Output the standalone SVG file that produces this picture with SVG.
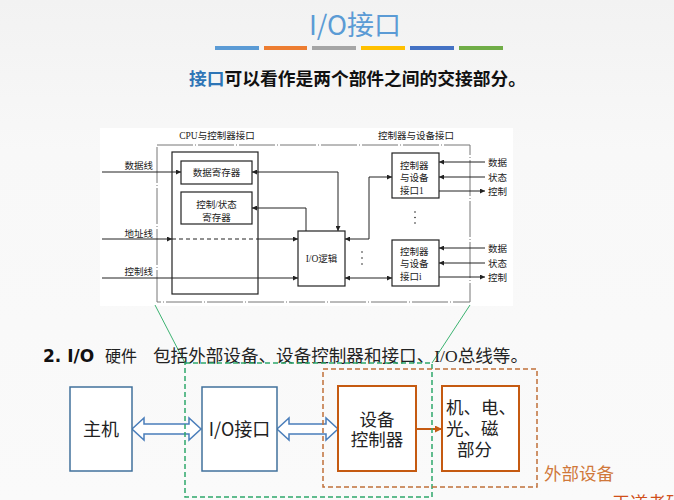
<svg xmlns="http://www.w3.org/2000/svg" width="674" height="500" viewBox="0 0 674 500">
<defs>
<marker id="ah" viewBox="0 0 10 10" refX="10" refY="5" markerWidth="7" markerHeight="5" orient="auto-start-reverse" markerUnits="userSpaceOnUse"><path d="M0,0 L10,5 L0,10 Z" fill="#222"/></marker>
<marker id="ao" viewBox="0 0 10 10" refX="10" refY="5" markerWidth="9" markerHeight="7" orient="auto" markerUnits="userSpaceOnUse"><path d="M0,0 L10,5 L0,10 Z" fill="#c55a11"/></marker>
<linearGradient id="bg" x1="0" y1="0" x2="0" y2="1"><stop offset="0" stop-color="#f2f2f2"/><stop offset="0.3" stop-color="#f8f8f8"/><stop offset="1" stop-color="#fafafa"/></linearGradient>
</defs>
<style>
.t{font-family:"Liberation Serif","Noto Sans CJK SC",serif;fill:#222}
.s{font-size:9.5px}
.ln{stroke:#222;stroke-width:1;fill:none}
.bx{stroke:#222;stroke-width:1.2;fill:#fff}
.frame{stroke:#777;stroke-width:1;fill:none;stroke-dasharray:36 2 1 2}
.blue{stroke:#41719c;stroke-width:1.5;fill:#fff}
.orng{stroke:#c55a11;stroke-width:2;fill:#fff}
.big{font-family:"Noto Sans CJK SC",sans-serif;font-size:18px;fill:#222}
</style>
<rect width="674" height="500" fill="url(#bg)"/>

<g id="header">
<text x="355" y="35" text-anchor="middle" font-family="Noto Sans CJK SC, sans-serif" font-size="27" fill="#5b9bd5">I/O接口</text>
<g stroke-width="4">
<line x1="215" y1="48" x2="259" y2="48" stroke="#5b9bd5"/>
<line x1="264" y1="48" x2="307" y2="48" stroke="#ed7d31"/>
<line x1="312" y1="48" x2="356" y2="48" stroke="#a5a5a5"/>
<line x1="361" y1="48" x2="405" y2="48" stroke="#ffc000"/>
<line x1="410" y1="48" x2="454" y2="48" stroke="#4472c4"/>
<line x1="459" y1="48" x2="503" y2="48" stroke="#70ad47"/>
</g>
<text x="189" y="85" font-family="Liberation Serif, Noto Sans CJK SC, serif" font-size="17.5" font-weight="bold" fill="#111" textLength="337" lengthAdjust="spacingAndGlyphs"><tspan fill="#2e75b6">接口</tspan>可以看作是两个部件之间的交接部分。</text>
</g>

<g id="panel">
<rect x="100" y="128" width="413" height="178" fill="#fff"/>
<rect class="frame" x="157" y="145" width="313" height="157"/>
<text class="t s" x="217" y="139" text-anchor="middle">CPU与控制器接口</text>
<text class="t s" x="416" y="139" text-anchor="middle">控制器与设备接口</text>
<text class="t s" x="153" y="169" text-anchor="end">数据线</text>
<text class="t s" x="153" y="237" text-anchor="end">地址线</text>
<text class="t s" x="153" y="275" text-anchor="end">控制线</text>
</g>

<g id="cpu-box"><rect x="172" y="152" width="86" height="142" fill="none" stroke="#222" stroke-width="1.2"/></g>
<g id="data-reg"><rect class="bx" x="181" y="161" width="71" height="23"/><text class="t s" x="216.5" y="176" text-anchor="middle">数据寄存器</text></g>
<g id="ctrl-reg"><rect class="bx" x="181" y="192" width="71" height="32"/><text class="t s" x="216.5" y="207.5" text-anchor="middle">控制/状态</text><text class="t s" x="216.5" y="220.5" text-anchor="middle">寄存器</text></g>
<g id="io-logic"><rect class="bx" x="298" y="231" width="47" height="55"/><text class="t s" x="321.5" y="262" text-anchor="middle">I/O逻辑</text></g>
<g id="dev-if-1"><rect class="bx" x="392" y="153" width="47" height="45"/><text class="t s" x="400" y="169">控制器</text><text class="t s" x="400" y="181">与设备</text><text class="t s" x="400" y="194">接口1</text></g>
<g id="dev-if-i"><rect class="bx" x="392" y="240" width="47" height="46"/><text class="t s" x="400" y="254.5">控制器</text><text class="t s" x="400" y="266.5">与设备</text><text class="t s" x="400" y="280">接口i</text></g>
<g id="signal-labels">
<text class="t s" x="488" y="165.5">数据</text><text class="t s" x="488" y="180.5">状态</text><text class="t s" x="488" y="194.5">控制</text>
<text class="t s" x="488" y="251.5">数据</text><text class="t s" x="488" y="266.5">状态</text><text class="t s" x="488" y="280.5">控制</text>
</g>
<g id="dots" fill="#222">
<circle cx="362" cy="252" r="0.8"/><circle cx="362" cy="258" r="0.8"/><circle cx="362" cy="264" r="0.8"/>
<circle cx="415" cy="212" r="0.8"/><circle cx="415" cy="217.5" r="0.8"/><circle cx="415" cy="223" r="0.8"/>
</g>

<g id="connectors">
<line class="ln" x1="102" y1="172" x2="181" y2="172" marker-end="url(#ah)"/>
<line class="ln" x1="102" y1="239" x2="172" y2="239" marker-end="url(#ah)"/>
<line class="ln" x1="172" y1="239" x2="258" y2="239" stroke-dasharray="4 3"/>
<line class="ln" x1="258" y1="239" x2="298" y2="239" marker-end="url(#ah)"/>
<line class="ln" x1="102" y1="278" x2="298" y2="278" marker-end="url(#ah)"/>
<path class="ln" d="M252,172 H338 V231" marker-start="url(#ah)" marker-end="url(#ah)"/>
<path class="ln" d="M306,231 V208 H252" marker-end="url(#ah)"/>
<path class="ln" d="M345,239 H369 V177 H392" marker-start="url(#ah)" marker-end="url(#ah)"/>
<line class="ln" x1="345" y1="278" x2="392" y2="278" marker-start="url(#ah)" marker-end="url(#ah)"/>
<line class="ln" x1="485" y1="162" x2="439" y2="162" marker-end="url(#ah)"/>
<line class="ln" x1="485" y1="177" x2="439" y2="177" marker-end="url(#ah)"/>
<line class="ln" x1="439" y1="191" x2="485" y2="191" marker-end="url(#ah)"/>
<line class="ln" x1="485" y1="248" x2="439" y2="248" marker-end="url(#ah)"/>
<line class="ln" x1="485" y1="263" x2="439" y2="263" marker-end="url(#ah)"/>
<line class="ln" x1="439" y1="277" x2="485" y2="277" marker-end="url(#ah)"/>
<line x1="155" y1="305" x2="185" y2="363" stroke="#3cb371" stroke-width="1"/>
<line x1="470" y1="305" x2="432" y2="363" stroke="#3cb371" stroke-width="1"/>
<path d="M132,429 L144,418 L144,424 L189,424 L189,418 L201,429 L189,440 L189,434 L144,434 L144,440 Z" fill="#fff" stroke="#4a7ebb" stroke-width="1.5"/>
<path d="M277,429 L289,418 L289,424 L326,424 L326,418 L338,429 L326,440 L326,434 L289,434 L289,440 Z" fill="#fff" stroke="#4a7ebb" stroke-width="1.5"/>
<line x1="416" y1="429" x2="442" y2="429" stroke="#c55a11" stroke-width="2" marker-end="url(#ao)"/>
</g>

<g id="hw-title">
<text x="43" y="362" font-family="DejaVu Sans, sans-serif" font-size="17" font-weight="bold" fill="#111">2. I/O</text>
<text x="105" y="362" font-family="Liberation Serif, Noto Sans CJK SC, serif" font-size="16" fill="#222">硬件</text>
<text x="153" y="362" font-family="Liberation Serif, Noto Sans CJK SC, serif" font-size="17.5" fill="#222" textLength="375" lengthAdjust="spacingAndGlyphs">包括外部设备、设备控制器和接口、I/O总线等。</text>
</g>

<g id="io-group"><rect x="185" y="363" width="247" height="134" fill="none" stroke="#2ea86b" stroke-width="1.5" stroke-dasharray="5 3"/></g>
<g id="external"><rect x="323" y="369" width="214" height="118" fill="none" stroke="#c0703a" stroke-width="1.5" stroke-dasharray="5 3"/><text x="544" y="480" font-family="Noto Sans CJK SC, sans-serif" font-size="17.5" fill="#d0783a">外部设备</text></g>

<g id="host"><rect class="blue" x="70" y="387" width="62" height="84"/><text class="big" x="101" y="436" text-anchor="middle">主机</text></g>
<g id="io-interface"><rect class="blue" x="202" y="387" width="75" height="84"/><text class="big" x="239.5" y="436" text-anchor="middle">I/O接口</text></g>
<g id="dev-controller"><rect class="orng" x="338" y="386" width="78" height="85"/><text class="t" x="377" y="426" font-size="17.5" text-anchor="middle">设备</text><text class="t" x="377" y="446" font-size="17.5" text-anchor="middle">控制器</text></g>
<g id="device"><rect class="orng" x="442" y="386" width="77" height="85"/><text class="t" x="446" y="414" font-size="17.5">机、电、</text><text class="t" x="446" y="435" font-size="17.5">光、磁</text><text class="t" x="457" y="456" font-size="17.5">部分</text></g>
<text x="612" y="510" font-family="Noto Sans CJK SC, sans-serif" font-size="18" fill="#d0501a">王道考研</text>
</svg>
